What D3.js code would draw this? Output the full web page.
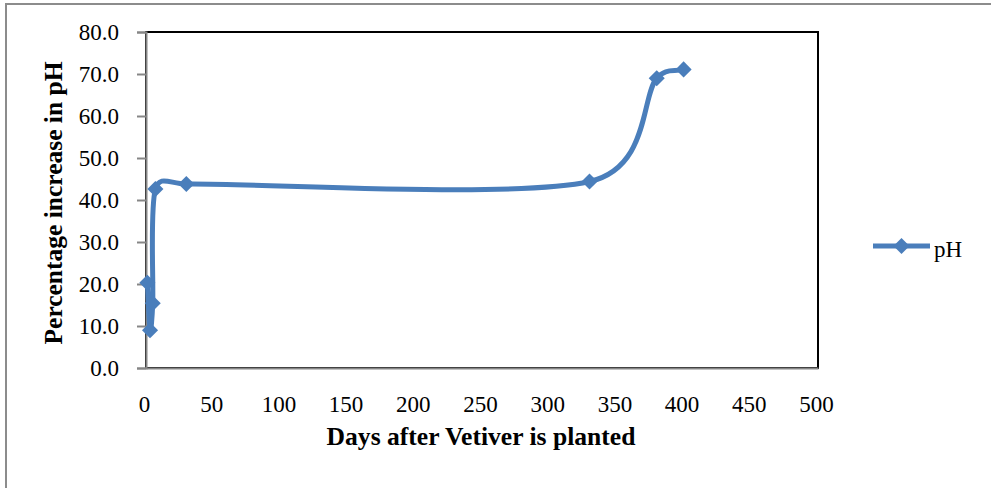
<!DOCTYPE html>
<style>
body { margin: 0; background: #fff; }
text { font-family: "Liberation Serif", serif; fill: #000; }
.axis .domain { stroke: #868686; stroke-width: 2; }
.axis line { stroke: #868686; stroke-width: 2; }
.axis text { font-size: 23px; font-family: "Liberation Serif", serif; }
</style>
<svg width="991" height="488"></svg>
<script src="https://cdnjs.cloudflare.com/ajax/libs/d3/7.8.5/d3.min.js"></script>
<script>

// days after planting and % increase in pH
var days = [1, 3, 5, 7, 30, 330, 380, 400];
var phIncrease = [20.3, 9.0, 15.4, 42.6, 43.8, 44.4, 69.0, 71.1];
var xTicks = [0, 50, 100, 150, 200, 250, 300, 350, 400, 450, 500];
var yTicks = [0, 10, 20, 30, 40, 50, 60, 70, 80];
var seriesName = "pH";

var svg = d3.select("svg"),
    margin = {top: 32, left: 146},
    width = 818 - 146,
    height = 368 - 32,
    blue = "#4a7ebb";

// outer chart border (cut off on right and bottom)
svg.append("rect")
    .attr("x", 6).attr("y", 4)
    .attr("width", 1000).attr("height", 520)
    .attr("fill", "none")
    .attr("stroke", "#8c8c8c")
    .attr("stroke-width", 2);

var g = svg.append("g").attr("transform", "translate(" + margin.left + "," + margin.top + ")");

var x = d3.scaleLinear().domain([0, 500]).range([0, width]);
var y = d3.scaleLinear().domain([0, 80]).range([height, 0]);

// plot area frame
g.append("rect")
    .attr("width", width).attr("height", height)
    .attr("fill", "none")
    .attr("stroke", "#000")
    .attr("stroke-width", 2);

g.append("g")
    .attr("class", "axis")
    .call(d3.axisLeft(y).tickValues(yTicks).tickFormat(d3.format(".1f")).tickSize(9).tickPadding(18));

var xAxis = g.append("g")
    .attr("class", "axis")
    .attr("transform", "translate(0," + height + ")")
    .call(d3.axisBottom(x).tickValues(xTicks).tickSize(0));
xAxis.selectAll(".tick text").attr("y", 44).attr("dy", 0).attr("dx", -2);

var data = days.map(function(d, i) { return [x(d), y(phIncrease[i])]; });

// excel style smoothed line: 1/6 tangents, handles capped at half a segment
function smoothPath(pts) {
  var p = d3.path(), n = pts.length;
  function dist(a, b) { return Math.hypot(b[0] - a[0], b[1] - a[1]); }
  p.moveTo(pts[0][0], pts[0][1]);
  for (var i = 0; i < n - 1; i++) {
    var p0 = pts[i - 1] || pts[i], p1 = pts[i], p2 = pts[i + 1], p3 = pts[i + 2] || pts[i + 1];
    var d12 = dist(p1, p2), d02 = dist(p0, p2), d13 = dist(p1, p3);
    var f0 = i == 0 ? 1 / 3 : 1 / 6, f1 = i == n - 2 ? 1 / 3 : 1 / 6;
    if (d02 * f0 > d12 / 2) f0 = d12 / 2 / d02;
    if (d13 * f1 > d12 / 2) f1 = d12 / 2 / d13;
    p.bezierCurveTo(p1[0] + (p2[0] - p0[0]) * f0, p1[1] + (p2[1] - p0[1]) * f0,
                    p2[0] - (p3[0] - p1[0]) * f1, p2[1] - (p3[1] - p1[1]) * f1,
                    p2[0], p2[1]);
  }
  return p.toString();
}

g.append("path")
    .attr("fill", "none")
    .attr("stroke", blue)
    .attr("stroke-width", 5)
    .attr("stroke-linejoin", "round")
    .attr("d", smoothPath(data));

var diamond = d3.symbol().type(d3.symbolDiamond2).size(165);

g.selectAll(".pt")
    .data(data)
    .enter().append("path")
      .attr("class", "pt")
      .attr("transform", function(d) { return "translate(" + d[0] + "," + d[1] + ")"; })
      .attr("d", diamond)
      .attr("fill", blue);

// shrink/grow a title so it spans the same width as in the picture
function fitText(sel, target) {
  var fs = +sel.attr("font-size"), w = sel.node().getComputedTextLength();
  sel.attr("font-size", (fs * target / w).toFixed(2));
}

// axis titles
var xTitle = svg.append("text")
    .attr("x", 481).attr("y", 445)
    .attr("text-anchor", "middle")
    .attr("font-weight", "bold")
    .attr("font-size", 23)
    .text("Days after Vetiver is planted");
fitText(xTitle, 309);

var yTitle = svg.append("text")
    .attr("transform", "translate(62,203) rotate(-90)")
    .attr("text-anchor", "middle")
    .attr("font-weight", "bold")
    .attr("font-size", 23)
    .text("Percentage increase in pH");
fitText(yTitle, 283);

// legend
var legend = svg.append("g").attr("transform", "translate(873,246)");
legend.append("line")
    .attr("x1", 0).attr("x2", 57)
    .attr("stroke", blue).attr("stroke-width", 5);
legend.append("path")
    .attr("transform", "translate(28.5,0)")
    .attr("d", diamond)
    .attr("fill", blue);
legend.append("text")
    .attr("x", 61).attr("y", 10.5)
    .attr("font-size", 23)
    .text(seriesName);

</script>
